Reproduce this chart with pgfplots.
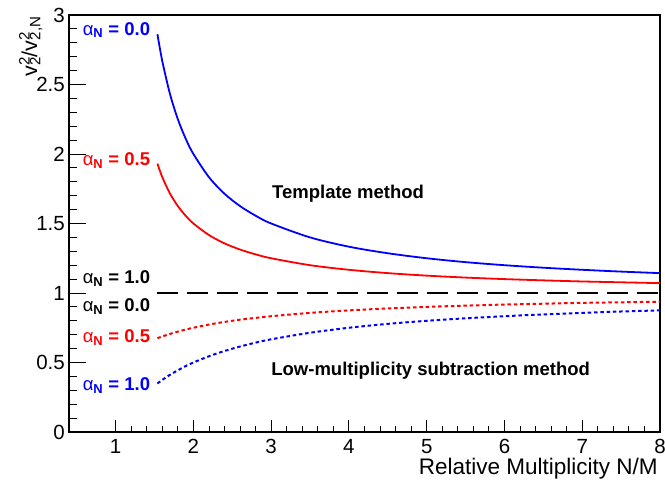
\documentclass[border=0pt]{standalone}
\usepackage{fontspec}
\setmainfont{Liberation Sans}
\usepackage{pgfplots}
\pgfplotsset{compat=1.18}

% curve label: alpha_N = value
\newcommand\alab[2]{{\fontsize{18.5bp}{20bp}\selectfont\color{#1}α\textsubscript{\textbf{N}}\textbf{ = #2}}}
\newcommand\ssub[2]{v\rlap{\textsuperscript{#1}}\textsubscript{#2}}

\begin{document}
\begin{tikzpicture}
\begin{axis}[
  scale only axis, width=591bp, height=417bp,
  xmin=0.4, xmax=8, ymin=0, ymax=3,
  xtick={1,2,...,8}, ytick={0,0.5,...,3},
  minor x tick num=4, minor y tick num=4,
  tick align=inside, xtick pos=left, ytick pos=left,
  x tick style={/pgfplots/major tick length=12bp,/pgfplots/minor tick length=6bp},
  y tick style={/pgfplots/major tick length=17bp,/pgfplots/minor tick length=8bp},
  major tick length=14bp, minor tick length=7bp,
  tick style={black, line width=0.9bp},
  axis line style={line width=1.1bp},
  /pgf/number format/assume math mode=true,
  tick label style={font=\fontsize{20.5bp}{22bp}\selectfont},
  xticklabel style={inner sep=0pt, yshift=-7bp},
  yticklabel style={inner sep=0pt, xshift=-4bp},
  xlabel={Relative Multiplicity N/M},
  every axis x label/.style={at={(axis description cs:1.002,-0.103)}, anchor=base east,
    font=\fontsize{22.5bp}{24bp}\selectfont},
  ylabel={\ssub{2}{2}/\ssub{2}{2,N}},
  every axis y label/.style={at={(axis description cs:-0.054,1.005)}, rotate=90, anchor=base east,
    font=\fontsize{21.5bp}{24bp}\selectfont},
  clip mode=individual,
]
\coordinate (bl) at (rel axis cs:0,0);
\coordinate (tr) at (rel axis cs:1,1);

% template method
\addplot[blue, line width=1.8bp, smooth] coordinates {
 (1.537,2.862) (1.6,2.667) (1.7,2.429) (1.8,2.25) (1.9,2.111) (2.0,2.0)
 (2.2,1.833) (2.4,1.714) (2.6,1.625) (2.8,1.556) (3.0,1.5) (3.5,1.4)
 (4,1.333) (4.5,1.286) (5,1.25) (5.5,1.222) (6,1.2) (6.5,1.182)
 (7,1.167) (7.5,1.154) (8,1.143)};
\addplot[red, line width=1.8bp, smooth] coordinates {
 (1.537,1.931) (1.6,1.833) (1.7,1.714) (1.8,1.625) (1.9,1.556) (2.0,1.5)
 (2.2,1.417) (2.4,1.357) (2.6,1.3125) (2.8,1.278) (3.0,1.25) (3.5,1.2)
 (4,1.167) (4.5,1.143) (5,1.125) (5.5,1.111) (6,1.1) (6.5,1.091)
 (7,1.083) (7.5,1.077) (8,1.071)};

% no bias
\addplot[black, line width=2.2bp, dash pattern=on 21bp off 9bp] coordinates {(1.537,1) (8,1)};

% low-multiplicity subtraction method
\addplot[red, line width=2bp, smooth, dash pattern=on 3.5bp off 2.8bp] coordinates {
 (1.537,0.675) (1.6,0.6875) (1.7,0.706) (1.8,0.722) (1.9,0.737) (2.0,0.75)
 (2.2,0.773) (2.4,0.792) (2.6,0.808) (2.8,0.821) (3.0,0.833) (3.5,0.857)
 (4,0.875) (4.5,0.889) (5,0.9) (5.5,0.909) (6,0.917) (6.5,0.923)
 (7,0.929) (7.5,0.933) (8,0.9375)};
\addplot[blue, line width=2bp, smooth, dash pattern=on 3.5bp off 2.8bp] coordinates {
 (1.537,0.349) (1.6,0.375) (1.7,0.412) (1.8,0.444) (1.9,0.474) (2.0,0.5)
 (2.2,0.545) (2.4,0.583) (2.6,0.615) (2.8,0.643) (3.0,0.667) (3.5,0.714)
 (4,0.75) (4.5,0.778) (5,0.8) (5.5,0.818) (6,0.833) (6.5,0.846)
 (7,0.857) (7.5,0.867) (8,0.875)};

\node[anchor=base east, inner sep=0pt] at (axis cs:1.446,2.856) {\alab{blue}{0.0}};
\node[anchor=base east, inner sep=0pt] at (axis cs:1.446,1.916) {\alab{red}{0.5}};
\node[anchor=base east, inner sep=0pt] at (axis cs:1.446,1.07) {\alab{black}{1.0}};
\node[anchor=base east, inner sep=0pt] at (axis cs:1.446,0.866) {\alab{black}{0.0}};
\node[anchor=base east, inner sep=0pt] at (axis cs:1.446,0.643) {\alab{red}{0.5}};
\node[anchor=base east, inner sep=0pt] at (axis cs:1.446,0.302) {\alab{blue}{1.0}};

\node[anchor=base west, inner sep=0pt, font=\fontsize{18.5bp}{20bp}\selectfont\bfseries]
  at (axis cs:3.01,1.681) {Template method};
\node[anchor=base west, inner sep=0pt, font=\fontsize{18.5bp}{20bp}\selectfont\bfseries]
  at (axis cs:3.00,0.41) {Low-multiplicity subtraction method};
\end{axis}
\pgfresetboundingbox
\path ([shift={(-69bp,-47bp)}]bl) rectangle ([shift={(5bp,15bp)}]tr);
\end{tikzpicture}
\end{document}
